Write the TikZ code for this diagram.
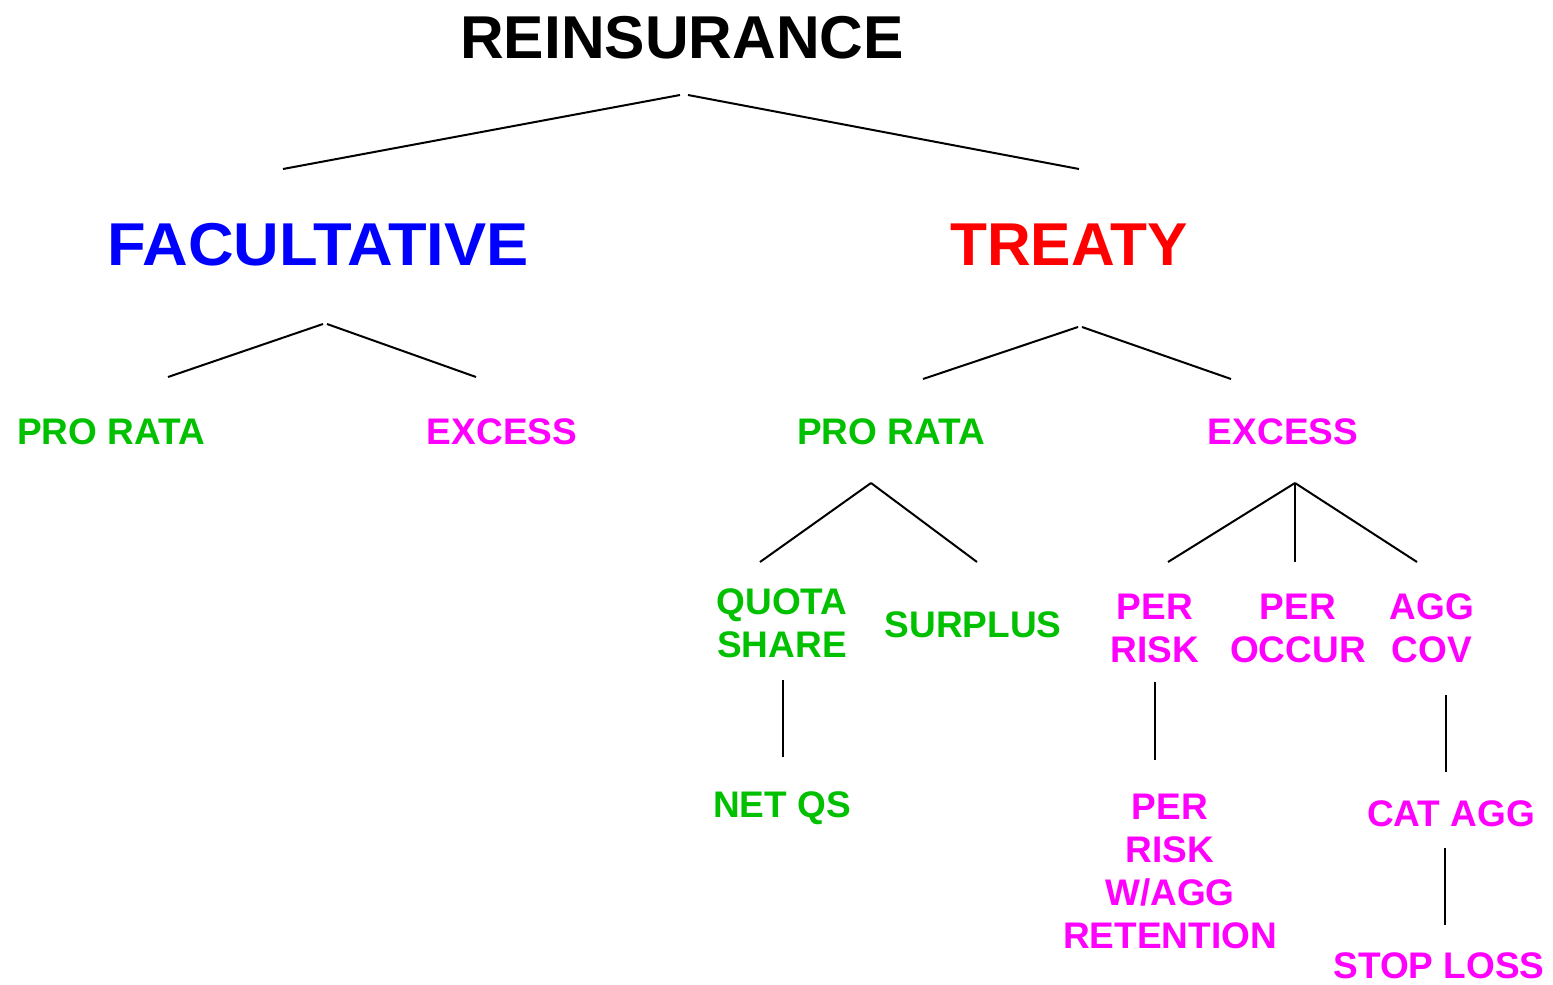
\documentclass[tikz,border=0pt]{standalone}
\usepackage{fontspec}
\setmainfont{Liberation Sans}
\definecolor{tgreen}{RGB}{0,192,0}
\definecolor{tmag}{RGB}{255,0,255}
\definecolor{tblue}{RGB}{0,0,255}
\definecolor{tred}{RGB}{255,0,0}
\begin{document}
\begin{tikzpicture}[x=0.5pt,y=-0.5pt,
  big/.style={inner sep=0pt,font=\fontsize{30.25}{34}\selectfont\bfseries},
  small/.style={inner sep=0pt,align=center,font=\fontsize{18.5}{21.5}\selectfont\bfseries},
  gr/.style={small,text=tgreen},
  mg/.style={small,text=tmag},
  link/.style={line width=1pt,black}]
\useasboundingbox (0,0) rectangle (1553,985);
% nodes
\node[big] (rein) at (682,38) {REINSURANCE};
\node[big,text=tblue,xscale=1.045] (fac) at (318,245) {FACULTATIVE};
\node[big,text=tred] (treaty) at (1069,245) {TREATY};
\node[gr] (fpro) at (111,432) {PRO RATA};
\node[mg] (fexc) at (502,432) {EXCESS};
\node[gr] (tpro) at (891,432) {PRO RATA};
\node[mg] (texc) at (1283,432) {EXCESS};
\node[gr] (qs) at (782,623) {QUOTA\\SHARE};
\node[gr] (surp) at (973,625) {SURPLUS};
\node[mg] (prisk) at (1155,628) {PER\\RISK};
\node[mg] (poccur) at (1298,628) {PER\\OCCUR};
\node[mg] (aggcov) at (1432,628) {AGG\\COV};
\node[gr] (netqs) at (782,808) {NET QS};
\node[mg] (priskagg) at (1170,871) {PER\\RISK\\W/AGG\\RETENTION};
\node[mg] (catagg) at (1451,814) {CAT AGG};
\node[mg] (stop) at (1439,966) {STOP LOSS};
% connector end points
\coordinate (r1) at (680,95); \coordinate (r2) at (688,95);
\coordinate (facT) at (283,169); \coordinate (treT) at (1079,169);
\coordinate (f1) at (323,324); \coordinate (f2) at (327,324);
\coordinate (fproT) at (168,377); \coordinate (fexcT) at (476,377);
\coordinate (t1) at (1078,327); \coordinate (t2) at (1082,327);
\coordinate (tproT) at (923,379); \coordinate (texcT) at (1231,379);
\coordinate (p0) at (871,483);
\coordinate (qsT) at (760,562); \coordinate (surpT) at (977,562);
\coordinate (e0) at (1295,483);
\coordinate (priskT) at (1168,562); \coordinate (poccurT) at (1295,562); \coordinate (aggT) at (1417,562);
\coordinate (qsB) at (783,680); \coordinate (netT) at (783,757);
\coordinate (prB) at (1155,682); \coordinate (pragT) at (1155,760);
\coordinate (agB) at (1446,695); \coordinate (catT) at (1446,772);
\coordinate (catB) at (1445,848); \coordinate (stopT) at (1445,925);
% connectors
\draw[link] (r1) -- (facT);
\draw[link] (r2) -- (treT);
\draw[link] (f1) -- (fproT);
\draw[link] (f2) -- (fexcT);
\draw[link] (t1) -- (tproT);
\draw[link] (t2) -- (texcT);
\draw[link] (p0) -- (qsT);
\draw[link] (p0) -- (surpT);
\draw[link] (e0) -- (priskT);
\draw[link] (e0) -- (poccurT);
\draw[link] (e0) -- (aggT);
\draw[link] (qsB) -- (netT);
\draw[link] (prB) -- (pragT);
\draw[link] (agB) -- (catT);
\draw[link] (catB) -- (stopT);
\end{tikzpicture}
\end{document}
